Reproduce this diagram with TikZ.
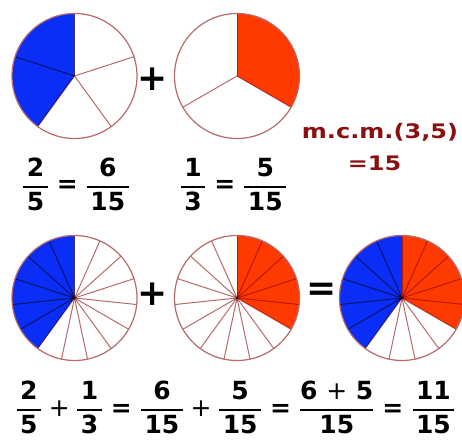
\documentclass[tikz,border=0pt]{standalone}
\usepackage{amsmath}
\usepackage{fontspec}
\setmainfont{DejaVu Sans}
\newfontfamily\mcmfont[FakeStretch=1.2]{DejaVu Sans}
\usetikzlibrary{positioning}
\definecolor{partblue}{HTML}{0A2EF8}
\definecolor{partred}{HTML}{FF3A00}
\definecolor{spoke}{HTML}{B86A6A}
\definecolor{mcmred}{HTML}{8C0F0F}
\newcommand{\fr}[2]{\genfrac{}{}{1.5pt}{0}{\text{#1}}{\kern3.5pt\text{#2}\kern3.5pt}}
\newcommand{\pl}{\mathbin{\kern1pt\text{\mdseries +}\kern1pt}}
\newcommand{\eq}{\mathrel{\kern1pt\text{=}\kern1pt}}
\tikzset{
  eqn/.style={font=\fontsize{25}{30}\selectfont\bfseries, inner sep=0pt, anchor=base},
  bigop/.style={font=\fontsize{36}{40}\selectfont\bfseries, inner sep=0pt},
  mcm/.style={font=\mcmfont\fontsize{20}{24}\selectfont\bfseries, text=mcmred, inner sep=0pt},
  rim/.style={draw=spoke, line width=1.2pt},
  spokeline/.style={draw=spoke, line width=1pt, blend mode=multiply}
}

\begin{document}
\begin{tikzpicture}[x=1pt, y=1pt]
    \useasboundingbox (0,0) rectangle (462,439);

    % pie centres
    \coordinate (pieA) at (74.5,363);
    \coordinate (pieB) at (237,363);
    \coordinate (sumA) at (74.5,141);
    \coordinate (sumB) at (237,141);
    \coordinate (sumC) at (402,141);

    % 2/5 and 1/3
    \fill[partblue] (pieA) -- ++(90:62.5) arc[start angle=90, end angle=234, radius=62.5] -- cycle;
    \foreach \a in {18,90,...,306} \draw[spokeline] (pieA) -- ++(\a:62.5);
    \draw[rim] (pieA) circle[radius=62.5];

    \fill[partred] (pieB) -- ++(90:62.5) arc[start angle=90, end angle=-30, radius=62.5] -- cycle;
    \foreach \a in {90,210,330} \draw[spokeline] (pieB) -- ++(\a:62.5);
    \draw[rim] (pieB) circle[radius=62.5];

    \node[bigop] (plusTop) at (153,360) {+};

    % in fifteenths
    \fill[partblue] (sumA) -- ++(90:62.5) arc[start angle=90, end angle=234, radius=62.5] -- cycle;
    \foreach \a in {90,114,...,426} \draw[spokeline] (sumA) -- ++(\a:62.5);
    \draw[rim] (sumA) circle[radius=62.5];

    \fill[partred] (sumB) -- ++(90:62.5) arc[start angle=90, end angle=-30, radius=62.5] -- cycle;
    \foreach \a in {90,114,...,426} \draw[spokeline] (sumB) -- ++(\a:62.5);
    \draw[rim] (sumB) circle[radius=62.5];

    \fill[partblue] (sumC) -- ++(90:62.5) arc[start angle=90, end angle=234, radius=62.5] -- cycle;
    \fill[partred] (sumC) -- ++(90:62.5) arc[start angle=90, end angle=-30, radius=62.5] -- cycle;
    \foreach \a in {90,114,...,426} \draw[spokeline] (sumC) -- ++(\a:62.5);
    \draw[rim] (sumC) circle[radius=62.5];

    \node[bigop] (plusBot) at (153,145) {+};
    \node[bigop] (eqBot) at (322,147) {=};

    % lcm
    \node[mcm] (mcm) at (380,307) {m.c.m.(3,5)};
    \node[mcm] (mcmval) at (374.5,276) {=15};

    % equations
    \node[eqn] (eqA) at (76,246) {$\fr{2}{5}\eq\fr{6}{15}$};
    \node[eqn] (eqB) at (233.5,246) {$\fr{1}{3}\eq\fr{5}{15}$};
    \node[eqn] (eqSum) at (235.5,22.75)
      {$\fr{2}{5}\pl\fr{1}{3}\eq\fr{6}{15}\pl\fr{5}{15}\eq\fr{6 {\mdseries +} 5}{15}\eq\fr{11}{15}$};
\end{tikzpicture}
\end{document}
